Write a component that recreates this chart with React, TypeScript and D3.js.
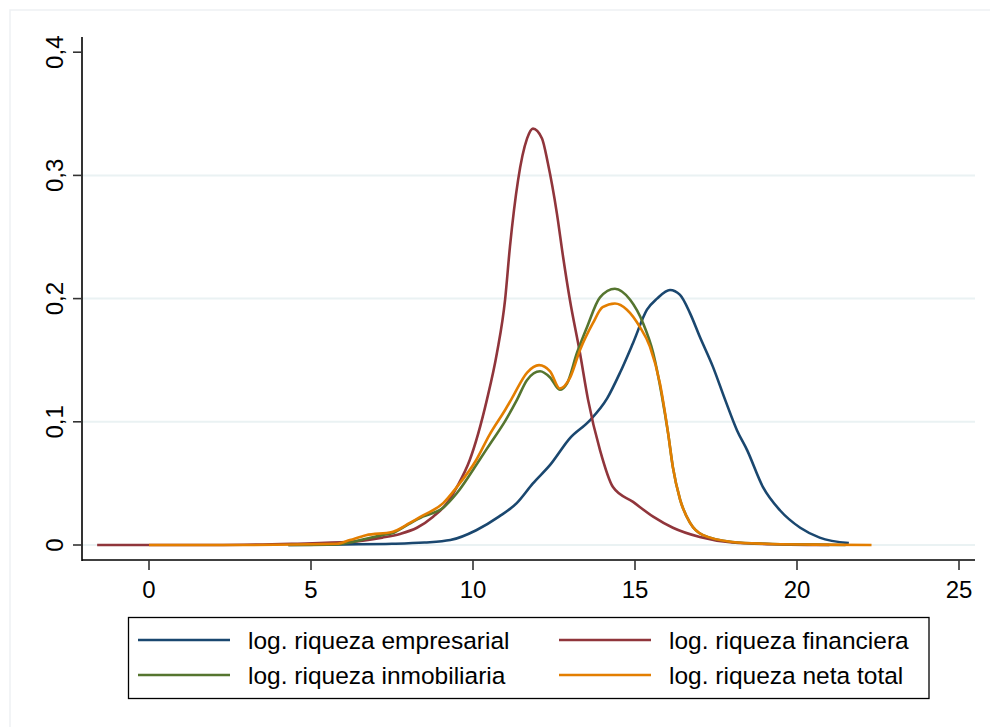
import React from "react";
import * as d3 from "d3";

const xTicks = [0, 5, 10, 15, 20, 25];
const yTicks = [0, 0.1, 0.2, 0.3, 0.4];
const yTickLabels = ["0", "0,1", "0,2", "0,3", "0,4"];
const gridValues = [0, 0.1, 0.2, 0.3];

const seriesNames = [
  "log. riqueza empresarial",
  "log. riqueza financiera",
  "log. riqueza inmobiliaria",
  "log. riqueza neta total",
];
const seriesColors = ["#1a476f", "#90353b", "#55752f", "#e37e00"];

const empresarialX = [4.3, 6, 7.5, 8.5, 9.3, 10.1, 10.8, 11.35, 11.85, 12.38, 13.0, 13.6, 14.14, 14.54, 14.94, 15.37, 15.68, 16.08, 16.39, 16.7, 17.0, 17.4, 17.78, 18.15, 18.46, 18.95, 19.48, 20.1, 20.7, 21.6];
const empresarialY = [0.0, 0.0005, 0.001, 0.002, 0.004, 0.012, 0.023, 0.034, 0.05, 0.065, 0.087, 0.101, 0.119, 0.14, 0.164, 0.191, 0.2, 0.207, 0.203, 0.188, 0.169, 0.145, 0.118, 0.093, 0.077, 0.047, 0.028, 0.014, 0.006, 0.0015];

const financieraX = [-1.6, 0, 2, 4.4, 6.2, 7.2, 7.75, 8.27, 8.77, 9.2, 9.5, 9.9, 10.43, 10.74, 10.99, 11.14, 11.39, 11.67, 11.85, 12.13, 12.31, 12.59, 12.78, 12.99, 13.3, 13.55, 13.92, 14.32, 14.94, 15.56, 16.17, 17.0, 18.0, 19.5, 21.0];
const financieraY = [0, 0, 0, 0.001, 0.0025, 0.006, 0.009, 0.014, 0.023, 0.034, 0.047, 0.069, 0.118, 0.156, 0.199, 0.242, 0.296, 0.33, 0.338, 0.33, 0.31, 0.269, 0.234, 0.199, 0.156, 0.118, 0.077, 0.047, 0.035, 0.023, 0.014, 0.0065, 0.002, 0.0005, 0.0];

const inmobiliariaX = [4.3, 5.8, 6.2, 6.7, 7.2, 7.5, 7.95, 8.45, 9.07, 9.5, 10.2, 10.5, 11.0, 11.36, 11.67, 12.07, 12.38, 12.68, 12.9, 13.21, 13.52, 13.92, 14.38, 14.85, 15.25, 15.56, 15.83, 16.02, 16.17, 16.39, 16.7, 17.1, 18.0, 19.0, 20.5, 21.5];
const inmobiliariaY = [0, 0.0005, 0.002, 0.005, 0.008, 0.0095, 0.016, 0.023, 0.03, 0.042, 0.069, 0.081, 0.101, 0.118, 0.134, 0.141, 0.136, 0.126, 0.131, 0.156, 0.177, 0.201, 0.208, 0.199, 0.18, 0.156, 0.121, 0.091, 0.063, 0.037, 0.018, 0.008, 0.0025, 0.001, 0.0003, 0];

const netaX = [0, 3, 5.8, 6.2, 6.7, 7.5, 7.65, 8.05, 8.46, 9.08, 9.5, 10.1, 10.5, 11.0, 11.2, 11.67, 12.04, 12.38, 12.68, 13.0, 13.3, 13.7, 14.0, 14.38, 14.75, 15.15, 15.46, 15.77, 16.02, 16.17, 16.39, 16.7, 17.1, 18.0, 19.0, 20.5, 22.3];
const netaY = [0, 0, 0.001, 0.004, 0.008, 0.0105, 0.012, 0.018, 0.024, 0.034, 0.047, 0.069, 0.089, 0.11, 0.119, 0.14, 0.146, 0.141, 0.127, 0.136, 0.158, 0.18, 0.193, 0.196, 0.191, 0.177, 0.161, 0.131, 0.091, 0.063, 0.037, 0.018, 0.008, 0.0025, 0.001, 0.0003, 0];

const seriesX = [empresarialX, financieraX, inmobiliariaX, netaX];
const seriesY = [empresarialY, financieraY, inmobiliariaY, netaY];
const drawOrder = [0, 1, 2, 3];

export default function App() {
  const W = 990;
  const H = 727;
  const axisLeft = 82;
  const axisRight = 975;
  const axisBottom = 560;
  const axisTop = 37;

  const x = d3.scaleLinear().domain([0, 25]).range([149, 959]);
  const y = d3.scaleLinear().domain([0, 0.4]).range([545, 52.2]);

  const line = d3
    .line<[number, number]>()
    .x((d) => x(d[0]))
    .y((d) => y(d[1]))
    .curve(d3.curveMonotoneX);

  const font = "'Liberation Sans', Arial, sans-serif";

  const legendRows = [
    { i: 0, col: 0, row: 0 },
    { i: 1, col: 1, row: 0 },
    { i: 2, col: 0, row: 1 },
    { i: 3, col: 1, row: 1 },
  ];
  const colSampleX = [138, 559];
  const rowY = [640, 675];

  return (
    <div style={{ position: "absolute", left: 0, top: 0 }}>
      <svg width={W} height={H} style={{ display: "block", background: "#fff" }}>
        <rect x={10} y={10} width={W} height={H} fill="#fff" stroke="#eef1f4" strokeWidth={1.5} />
        {gridValues.map((g) => (
          <line key={g} x1={axisLeft} x2={axisRight} y1={y(g)} y2={y(g)} stroke="#eaf2f3" strokeWidth={2} />
        ))}
        {drawOrder.map((s) => {
          const pts: [number, number][] = seriesX[s].map((v, k) => [v, seriesY[s][k]]);
          return (
            <path key={s} d={line(pts) || ""} fill="none" stroke={seriesColors[s]} strokeWidth={2.6} strokeLinejoin="round" />
          );
        })}
        <line x1={axisLeft} x2={axisLeft} y1={axisTop} y2={axisBottom + 1} stroke="#000" strokeWidth={1.6} />
        <line x1={axisLeft} x2={axisRight} y1={axisBottom} y2={axisBottom} stroke="#000" strokeWidth={1.6} />
        {yTicks.map((t, k) => (
          <g key={t}>
            <line x1={axisLeft - 9} x2={axisLeft} y1={y(t)} y2={y(t)} stroke="#333" strokeWidth={1.6} />
            <text
              transform={`translate(63,${y(t)}) rotate(-90)`}
              textAnchor="middle"
              fontFamily={font}
              fontSize={24}
              fill="#000"
            >
              {yTickLabels[k]}
            </text>
          </g>
        ))}
        {xTicks.map((t) => (
          <g key={t}>
            <line x1={x(t)} x2={x(t)} y1={axisBottom} y2={axisBottom + 10} stroke="#333" strokeWidth={1.6} />
            <text x={x(t)} y={598} textAnchor="middle" fontFamily={font} fontSize={24} fill="#000">
              {t}
            </text>
          </g>
        ))}
        <rect x={128.5} y={617.5} width={800.5} height={81} fill="#fff" stroke="#000" strokeWidth={1.3} />
        {legendRows.map((r) => (
          <g key={r.i}>
            <line
              x1={colSampleX[r.col]}
              x2={colSampleX[r.col] + 92}
              y1={rowY[r.row]}
              y2={rowY[r.row]}
              stroke={seriesColors[r.i]}
              strokeWidth={2.6}
            />
            <text x={colSampleX[r.col] + 110} y={rowY[r.row] + 8.5} fontFamily={font} fontSize={24.5} fill="#000">
              {seriesNames[r.i]}
            </text>
          </g>
        ))}
      </svg>
    </div>
  );
}
